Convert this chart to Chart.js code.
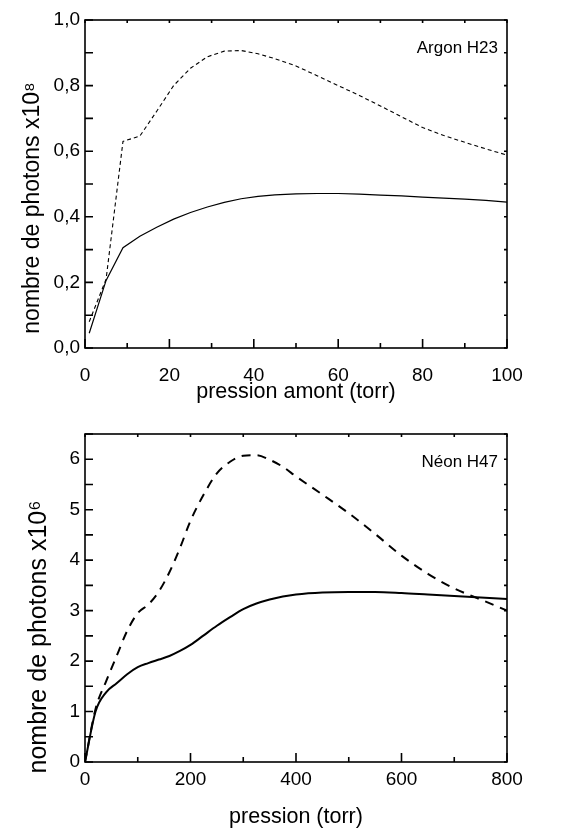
<!DOCTYPE html>
<html lang="fr">
<head>
<meta charset="UTF-8">
<title>Argon H23 / Néon H47</title>
<script src="https://cdn.jsdelivr.net/npm/chart.js"></script>
<style>
  body { margin: 0; background: #fff; }
  #wrap { position: relative; width: 562px; height: 830px; }
  canvas { position: absolute; left: 0; }
</style>
</head>
<body>
<div id="wrap">
  <canvas id="argonChart" width="562" height="410" style="top:0"></canvas>
  <canvas id="neonChart" width="562" height="430" style="top:400px"></canvas>
</div>
<script>
// Argon H23 (nombre de photons x10^8)
const argonPressure = [1, 5, 9, 13, 17, 21, 25, 29, 33, 37, 41, 45, 50, 55, 60, 65, 70, 75, 80, 85, 90, 95, 100];
const argonSolid = [0.045, 0.206, 0.306, 0.341, 0.368, 0.393, 0.413, 0.430, 0.444, 0.455, 0.462, 0.467, 0.470, 0.471, 0.471, 0.469, 0.466, 0.464, 0.460, 0.457, 0.454, 0.450, 0.445];
const argonDashed = [0.080, 0.210, 0.630, 0.646, 0.722, 0.800, 0.853, 0.888, 0.905, 0.907, 0.897, 0.882, 0.860, 0.830, 0.800, 0.770, 0.738, 0.705, 0.672, 0.648, 0.627, 0.607, 0.588];
const argonXMajor = [0, 20, 40, 60, 80, 100];
const argonXLabels = ['0', '20', '40', '60', '80', '100'];
const argonYMajor = [0, 0.2, 0.4, 0.6, 0.8, 1.0];
const argonYLabels = ['0,0', '0,2', '0,4', '0,6', '0,8', '1,0'];

// Néon H47 (nombre de photons x10^6)
const neonPressure = [0, 20, 40, 60, 80, 100, 120, 140, 160, 180, 200, 225, 250, 275, 300, 325, 350, 375, 400, 450, 500, 550, 600, 650, 700, 750, 800];
const neonSolid = [0, 1.00, 1.38, 1.56, 1.74, 1.88, 1.96, 2.03, 2.10, 2.20, 2.32, 2.51, 2.70, 2.87, 3.03, 3.14, 3.22, 3.28, 3.32, 3.36, 3.37, 3.37, 3.35, 3.32, 3.29, 3.26, 3.23];
const neonDashed = [0, 1.05, 1.60, 2.10, 2.60, 2.95, 3.12, 3.38, 3.76, 4.24, 4.78, 5.30, 5.72, 5.95, 6.07, 6.08, 5.99, 5.85, 5.66, 5.30, 4.93, 4.52, 4.09, 3.73, 3.44, 3.22, 3.00];
const neonXMajor = [0, 200, 400, 600, 800];
const neonXLabels = ['0', '200', '400', '600', '800'];
const neonYMajor = [0, 1, 2, 3, 4, 5, 6];
const neonYLabels = ['0', '1', '2', '3', '4', '5', '6'];

const FONT = '"Liberation Sans", Arial, sans-serif';
Chart.defaults.font.family = FONT;
Chart.defaults.color = '#000';

function majorLabel(majors, labels) {
    return function(v) {
        const i = majors.findIndex(m => Math.abs(m - v) < 1e-6);
        return i < 0 ? '' : labels[i];
    };
}

// box round the plot, ticks pointing inside, the gas label and the y title
const frameTicks = {
    id: 'frameTicks',
    afterDatasetsDraw(chart, args, opts) {
        const {ctx, chartArea: a, scales: {x, y}} = chart;
        ctx.save();
        ctx.strokeStyle = '#000';
        ctx.lineWidth = opts.lineWidth;
        ctx.strokeRect(a.left, a.top, a.right - a.left, a.bottom - a.top);
        ctx.beginPath();
        x.ticks.forEach(t => {
            const px = x.getPixelForValue(t.value);
            const major = opts.xMajor.some(m => Math.abs(m - t.value) < 1e-6);
            ctx.moveTo(px, a.bottom);
            ctx.lineTo(px, a.bottom - (major ? 9 : 5));
            ctx.moveTo(px, a.top);
            ctx.lineTo(px, a.top + 3);
        });
        y.ticks.forEach(t => {
            const py = y.getPixelForValue(t.value);
            ctx.moveTo(a.left, py);
            ctx.lineTo(a.left + 8, py);
            ctx.moveTo(a.right, py);
            ctx.lineTo(a.right - 3, py);
        });
        ctx.stroke();

        ctx.fillStyle = '#000';
        ctx.font = '17px ' + FONT;
        ctx.textAlign = 'right';
        ctx.textBaseline = 'alphabetic';
        ctx.fillText(opts.label, a.right - 9, a.top + 33);

        ctx.translate(opts.yTitleX, opts.yTitleY);
        ctx.rotate(-Math.PI / 2);
        ctx.font = opts.yTitleSize + 'px ' + FONT;
        ctx.textAlign = 'center';
        ctx.textBaseline = 'middle';
        ctx.fillText(opts.yTitle, 0, 0);
        ctx.restore();
    }
};

function makeChart(id, cfg) {
    new Chart(document.getElementById(id), {
        type: 'line',
        data: {
            datasets: [
                {
                    data: cfg.xs.map((v, i) => ({x: v, y: cfg.solid[i]})),
                    borderColor: '#000',
                    borderWidth: cfg.solidWidth,
                    pointRadius: 0,
                    tension: cfg.smooth ? 0.4 : 0,
                    cubicInterpolationMode: cfg.smooth ? 'monotone' : 'default'
                },
                {
                    data: cfg.xs.map((v, i) => ({x: v, y: cfg.dashed[i]})),
                    borderColor: '#000',
                    borderWidth: cfg.dashWidth,
                    borderDash: cfg.dash,
                    pointRadius: 0,
                    tension: cfg.smooth ? 0.4 : 0,
                    cubicInterpolationMode: cfg.smooth ? 'monotone' : 'default'
                }
            ]
        },
        options: {
            responsive: false,
            animation: false,
            devicePixelRatio: 1,
            layout: {padding: {top: cfg.padTop, right: 55, bottom: 0, left: 0}},
            plugins: {
                legend: {display: false},
                tooltip: {enabled: false},
                frameTicks: {
                    lineWidth: 1.6, xMajor: cfg.xMajor, label: cfg.label,
                    yTitle: cfg.yTitle, yTitleX: cfg.yTitleX, yTitleY: cfg.yTitleY, yTitleSize: cfg.yTitleSize
                }
            },
            scales: {
                x: {
                    type: 'linear',
                    min: cfg.xMin,
                    max: cfg.xMax,
                    grid: {display: false, drawTicks: false},
                    border: {display: false},
                    ticks: {
                        stepSize: cfg.xStep,
                        autoSkip: false,
                        maxRotation: 0,
                        padding: cfg.xPad,
                        font: {size: 19},
                        callback: majorLabel(cfg.xMajor, cfg.xLabels)
                    },
                    title: {display: true, text: cfg.xTitle, font: {size: 21.5}, padding: {top: 0, bottom: cfg.xTitlePad}},
                    afterFit: s => { s.height = cfg.xHeight; }
                },
                y: {
                    min: cfg.yMin,
                    max: cfg.yMax,
                    grid: {display: false, drawTicks: false},
                    border: {display: false},
                    ticks: {
                        stepSize: cfg.yStep,
                        autoSkip: false,
                        padding: 5,
                        font: {size: 19},
                        callback: majorLabel(cfg.yMajor, cfg.yLabels)
                    },
                    afterFit: s => { s.width = 85; }
                }
            }
        },
        plugins: [frameTicks]
    });
}

makeChart('argonChart', {
    xs: argonPressure, solid: argonSolid, dashed: argonDashed,
    solidWidth: 1.2, dashWidth: 1.1, dash: [4, 3], smooth: false,
    xMin: 0, xMax: 100, xStep: 10, xMajor: argonXMajor, xLabels: argonXLabels,
    yMin: 0, yMax: 1.0, yStep: 0.1, yMajor: argonYMajor, yLabels: argonYLabels,
    xTitle: 'pression amont (torr)', yTitle: 'nombre de photons x10⁸',
    yTitleX: 33, yTitleY: 208, yTitleSize: 23,
    label: 'Argon H23', padTop: 20, xHeight: 62, xPad: 16, xTitlePad: 5
});

makeChart('neonChart', {
    xs: neonPressure, solid: neonSolid, dashed: neonDashed,
    solidWidth: 2, dashWidth: 2, dash: [9, 7], smooth: true,
    xMin: 0, xMax: 800, xStep: 100, xMajor: neonXMajor, xLabels: neonXLabels,
    yMin: 0, yMax: 6.5, yStep: 0.5, yMajor: neonYMajor, yLabels: neonYLabels,
    xTitle: 'pression (torr)', yTitle: 'nombre de photons x10⁶',
    yTitleX: 39, yTitleY: 237, yTitleSize: 25,
    label: 'Néon H47', padTop: 34, xHeight: 68, xPad: 6, xTitlePad: 0
});
</script>
</body>
</html>
